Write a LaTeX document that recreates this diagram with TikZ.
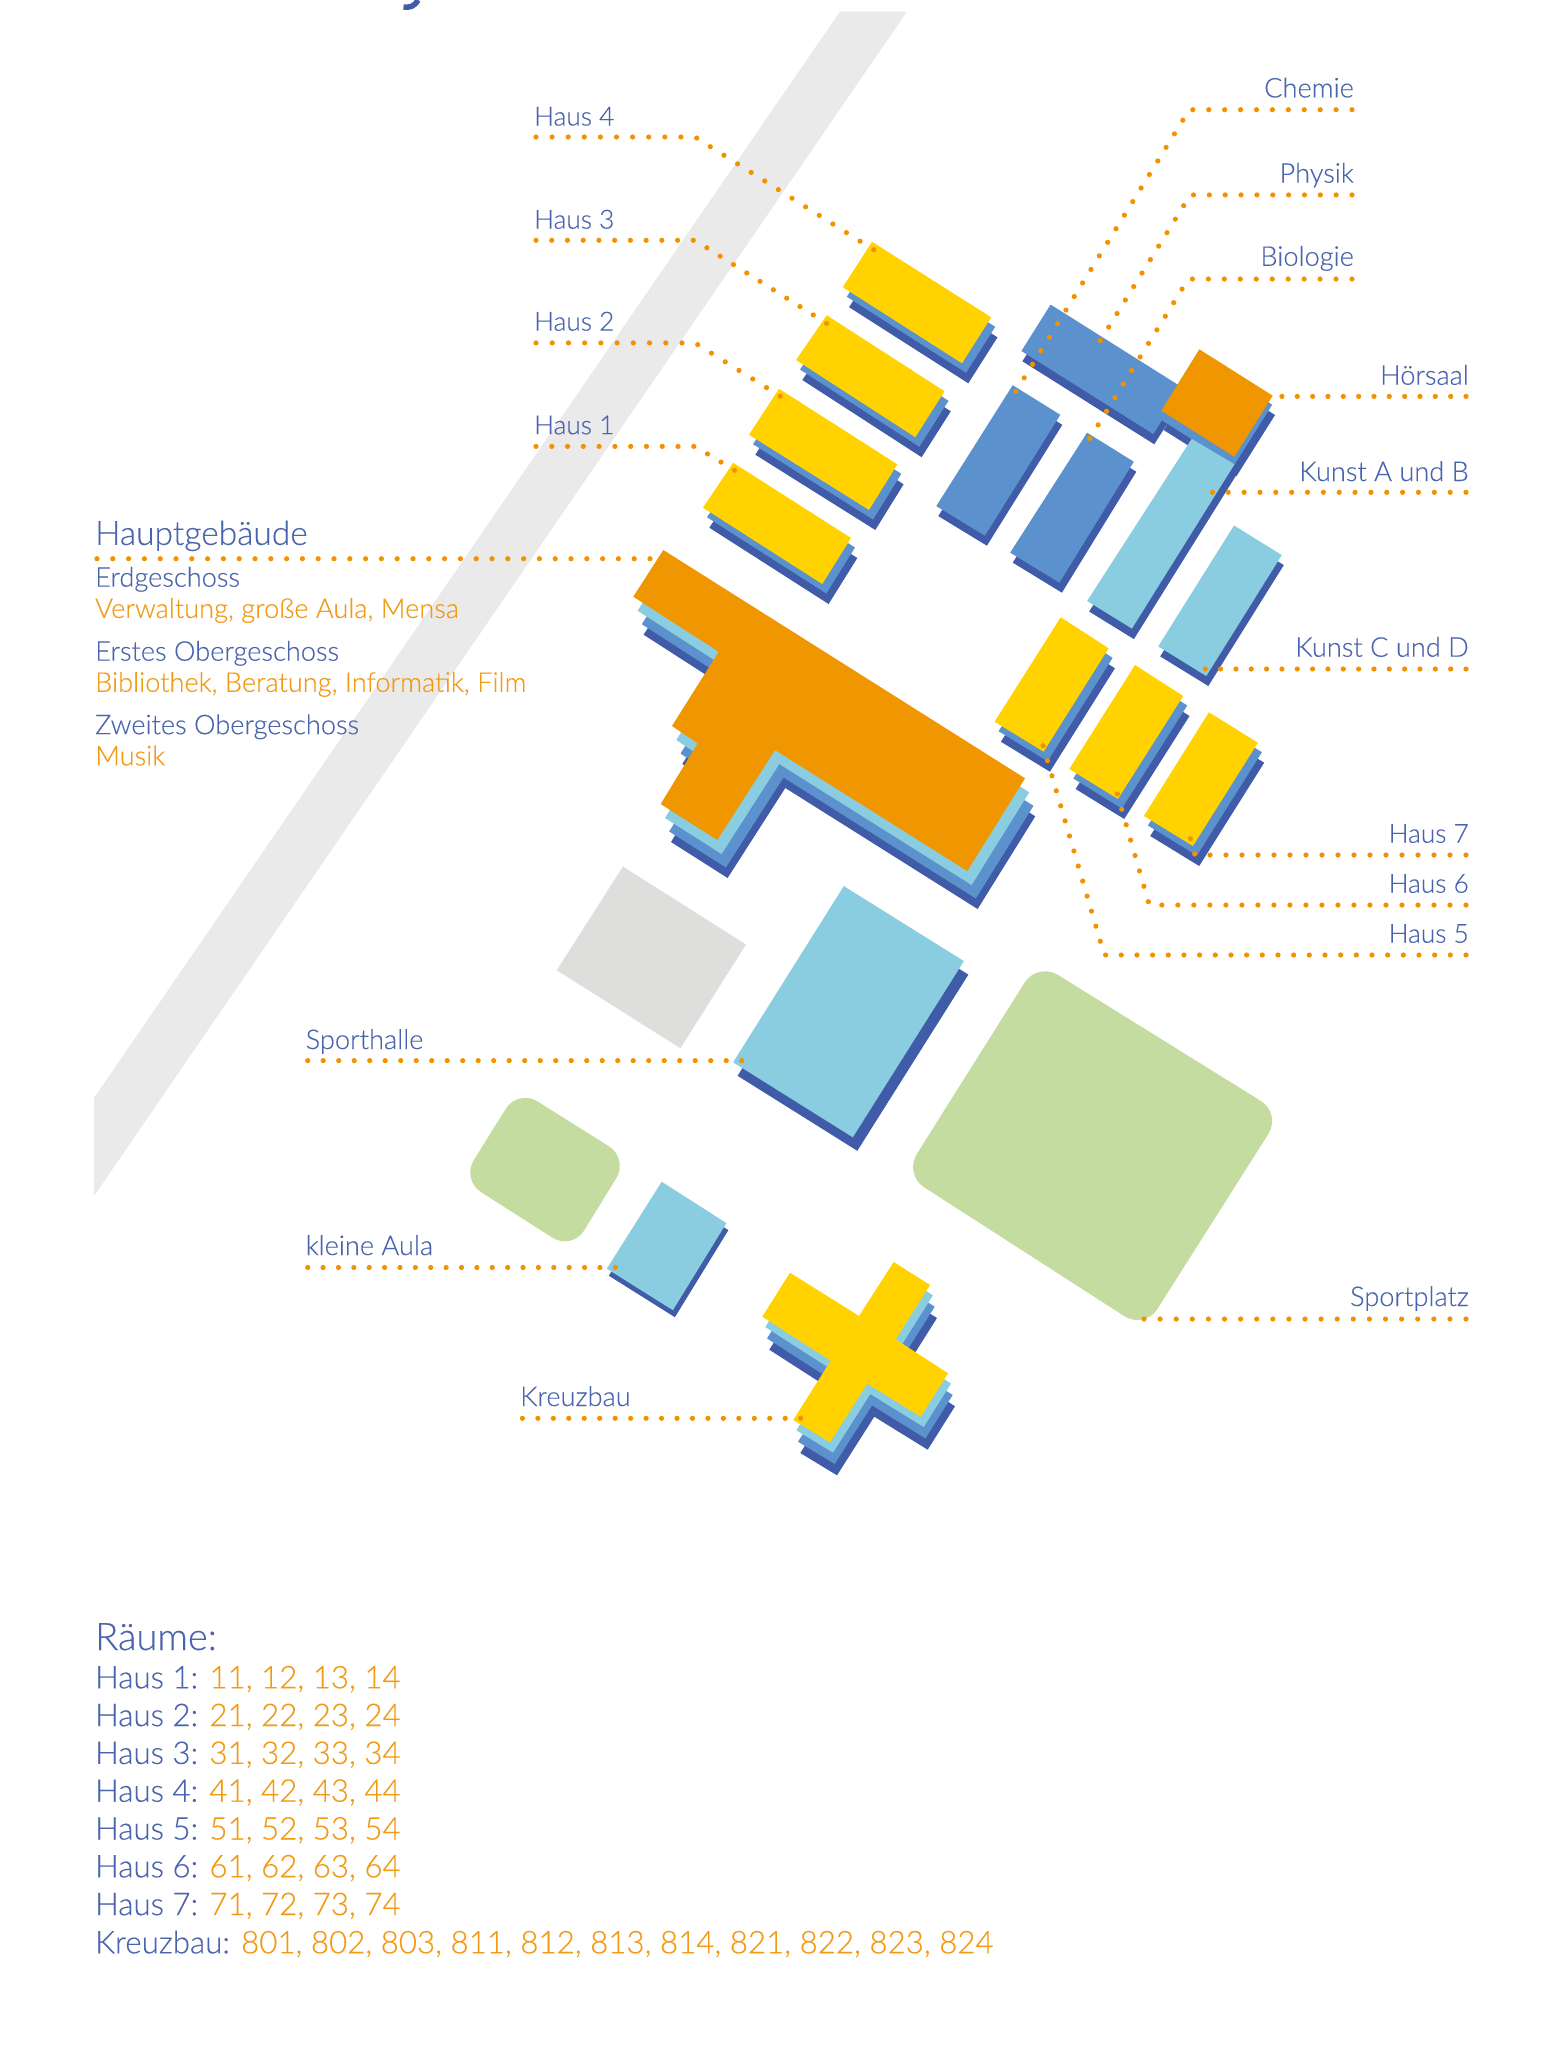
\documentclass[tikz,border=0pt]{standalone}
\usepackage{fontspec}
\setmainfont{Lato}[UprightFont=* Light, UprightFeatures={FakeBold=0.25}]
\usetikzlibrary{positioning}

\definecolor{tblue}{HTML}{4A64AE}
\definecolor{torange}{HTML}{F39A14}
\definecolor{dotorange}{HTML}{F39200}
\definecolor{bdark}{HTML}{405CA8}
\definecolor{bmed}{HTML}{5B91CD}
\definecolor{blight}{HTML}{8BCDE0}
\definecolor{byellow}{HTML}{FFD200}
\definecolor{borange}{HTML}{EF9600}
\definecolor{road}{HTML}{EAEAEA}
\definecolor{plot}{HTML}{DEDEDC}
\definecolor{lawn}{HTML}{C4DCA0}

% one building: list of colour/dx/dy layers, then the outline
\newcommand{\layered}[2]{\edef\stacklist{#1}\foreach \col/\dx/\dy in \stacklist {\fill[\col,shift={(\dx,\dy)}] #2;}}
% leader line: dot spacing, start, knee, end
\newcommand{\leader}[5]{
  \coordinate (#1s) at #3;
  \coordinate (#1k) at #4;
  \coordinate (#1e) at #5;
  \draw[dots=#2] (#1s) -- (#1k) -- (#1e);
}
\newcommand{\hausstack}{bdark/6.3/20,bmed/4/9.5,byellow/0/0}
\newcommand{\mainstack}{bdark/10.3/38,bmed/8.5/27.5,blight/4.3/14}

\begin{document}
\begin{tikzpicture}[
    x=1pt, y=-1pt,
    dots/.style={draw=dotorange, line width=5.2pt, line cap=round, dash pattern=on 0pt off #1pt},
    lab/.style={text=tblue, inner sep=0pt, anchor=base west, font=\fontsize{27.2}{32}\selectfont},
    labr/.style={lab, anchor=base east},
    hauslab/.style={lab, font=\fontsize{26.3}{32}\selectfont},
    hauslabr/.style={hauslab, anchor=base east},
    sub/.style={lab, text=torange},
    big/.style={lab, font=\fontsize{33.5}{38}\selectfont},
    room/.style={lab, font=\fontsize{31.3}{36}\selectfont},
  ]
  \useasboundingbox (0,0) rectangle (1563,2048);
  \fill[white] (0,0) rectangle (1563,2048);

  % Road and title remnant
  \fill[road] (840,11.5) -- (907,11.5) -- (94,1196) -- (94,1098) -- cycle;
  \draw[bdark, line width=5.5pt] (418,0) .. controls (414,7) and (410,7.5) .. (403.5,7);

  % Open ground
  \fill[plot] (622.9,866.6) -- (746,944.5) -- (680.4,1048.2) -- (556.8,970.2) -- cycle;
  \fill[lawn, rounded corners=23pt] (518,1089.2) -- (628.4,1158.5) -- (572,1250.1) -- (461.6,1179.7) -- cycle;
  \fill[lawn, rounded corners=24pt] (1037.5,962.2) -- (1281.2,1113.6) -- (1144.6,1329.2) -- (904,1174.3) -- cycle;

  % Haus 1 to 4
  \layered{\hausstack}{(872,241.8) -- (991.2,317.3) -- (962,363.3) -- (842.8,287.2) -- cycle}
  \layered{\hausstack}{(826.8,315.3) -- (944.5,391.3) -- (915.3,437.2) -- (796,360) -- cycle}
  \layered{\hausstack}{(779,388.8) -- (897.3,464.3) -- (869,510) -- (749,434.7) -- cycle}
  \layered{\hausstack}{(733.2,462.8) -- (851,538) -- (822.3,584) -- (703,507.7) -- cycle}

  % Haus 5 to 7
  \layered{\hausstack}{(1060.7,617.3) -- (1108.6,648.3) -- (1043.6,751.7) -- (994.6,721.7) -- cycle}
  \layered{\hausstack}{(1135,665) -- (1183.2,696) -- (1117.9,799) -- (1069.3,769) -- cycle}
  \layered{\hausstack}{(1208.9,712.3) -- (1257.9,742.7) -- (1192.9,846) -- (1143.9,816) -- cycle}

  % Naturwissenschaften
  \layered{bdark/1/10.3,bmed/0/0}{(1050.6,304.6) -- (1182.5,387.6) -- (1153.3,434) -- (1021.4,351) -- cycle}
  \layered{bdark/2/10,bmed/0/0}{(1012.7,385.2) -- (1060.3,414.8) -- (984.9,535.7) -- (936.3,506.1) -- cycle}
  \layered{bdark/2.5/10,bmed/0/0}{(1087.1,432.7) -- (1133.8,461.7) -- (1059.4,582.7) -- (1010.2,552.6) -- cycle}

  % Kunst and Hoersaal
  \layered{bdark/2/10.5}{(1191.7,438.8) -- (1234.5,464.3) -- (1131.9,628.6) -- (1087.1,601) -- cycle}
  \layered{bdark/2.3/19.3,bmed/-0.5/9}{(1199.3,349.3) -- (1272.7,395.7) -- (1234.3,456.7) -- (1161.3,410.7) -- cycle}
  \layered{blight/0/0}{(1191.7,438.8) -- (1234.5,464.3) -- (1131.9,628.6) -- (1087.1,601) -- cycle}
  \layered{borange/0/0}{(1199.3,349.3) -- (1272.7,395.7) -- (1234.3,456.7) -- (1161.3,410.7) -- cycle}
  \layered{bdark/2/10,blight/0/0}{(1234,525.5) -- (1281.8,555.1) -- (1206.3,676) -- (1158.2,646.4) -- cycle}

  % Hauptgebaeude
  \layered{\mainstack,borange/0/0}{(663.3,550) -- (1025,778.3) -- (967.3,871) -- (775,750) -- (717.3,840) -- (660.7,804) -- (697.7,743.3) -- (672,726) -- (718.7,651.7) -- (633.3,596.7) -- cycle}

  % Sporthalle, kleine Aula, Kreuzbau
  \layered{bdark/4.5/13.5,blight/0/0}{(843.8,886.1) -- (963.9,961.1) -- (852.8,1137.3) -- (733.1,1062.3) -- cycle}
  \layered{bdark/2/7,blight/0/0}{(661.7,1181.7) -- (726.4,1223.1) -- (672.9,1310.2) -- (606.8,1268.7) -- cycle}
  \layered{bdark/7/33,bmed/4.7/21.7,blight/3/10.3,byellow/0/0}{(893.7,1262) -- (930,1285) -- (895.7,1339.3) -- (948,1373.3) -- (920.7,1416.7) -- (867.3,1383.7) -- (830,1442.3) -- (793.3,1420) -- (830.7,1360.7) -- (762.3,1316.7) -- (790,1272.7) -- (859,1316) -- cycle}

  % Labels left
  \node[hauslab] (haus4) at (534,125.5) {Haus 4};
  \node[hauslab] (haus3) at (534,228.6) {Haus 3};
  \node[hauslab] (haus2) at (534,330.6) {Haus 2};
  \node[hauslab] (haus1) at (534,434.2) {Haus 1};
  \node[lab] (halle) at (305.5,1049) {Sporthalle};
  \node[lab] (aula) at (305.5,1255) {kleine Aula};
  \node[lab] (kreuz) at (520,1406) {Kreuzbau};

  % Labels right
  \node[labr] (chemie) at (1354,97.4) {Chemie};
  \node[labr] (physik) at (1354,182.7) {Physik};
  \node[labr] (bio) at (1354,265.8) {Biologie};
  \node[labr] (saal) at (1469,384.7) {Hörsaal};
  \node[labr] (kunstab) at (1469,481) {Kunst A und B};
  \node[labr] (kunstcd) at (1469,656.7) {Kunst C und D};
  \node[hauslabr] (haus7) at (1469,842.7) {Haus 7};
  \node[hauslabr] (haus6) at (1469,892.7) {Haus 6};
  \node[hauslabr] (haus5) at (1469,942.7) {Haus 5};
  \node[labr] (platz) at (1469,1306) {Sportplatz};

  % Hauptgebaeude text
  \node[big] (haupt) at (95,544.9) {Hauptgebäude};
  \node[lab] (eg) at (95,586.7) {Erdgeschoss};
  \node[sub] (egt) at (95,617.9) {Verwaltung, große Aula, Mensa};
  \node[lab] (og) at (95,660.7) {Erstes Obergeschoss};
  \node[sub] (ogt) at (95,691.8) {Bibliothek, Beratung, Informatik, Film};
  \node[lab] (zg) at (95,734.2) {Zweites Obergeschoss};
  \node[sub] (zgt) at (95,765.3) {Musik};

  % Leaders
  \leader{l4}{16.1}{(536,137)}{(695,137)}{(874,250)}
  \leader{l3}{15.73}{(536,240.3)}{(695,240.3)}{(826.8,323.5)}
  \leader{l2}{16.22}{(536,342.9)}{(695,342.9)}{(780.6,396.4)}
  \leader{l1}{15.78}{(536,446.4)}{(695,446.4)}{(734.7,470.4)}
  \leader{lc}{15.92}{(1352,109.7)}{(1189.3,109.7)}{(1015.6,391.8)}
  \leader{lp}{15.85}{(1352,194.9)}{(1190.3,194.9)}{(1100.2,340.8)}
  \leader{lb}{15.96}{(1352,279)}{(1188.3,279)}{(1089.5,438.8)}
  \leader{l7}{16}{(1466,855)}{(1195,855)}{(1190.4,838.3)}
  \leader{l6}{16.01}{(1466,905)}{(1149.3,905)}{(1117.1,793.3)}
  \leader{l5}{15.67}{(1466,955)}{(1104.3,955)}{(1042.9,745)}
  \coordinate (lhs) at (97,558.7);
  \coordinate (lhe) at (650.5,558.7);
  \draw[dots=15.8] (lhs) -- (lhe);
  \coordinate (lss) at (1466,396.4);
  \coordinate (lse) at (1281.7,396.4);
  \draw[dots=15.34] (lss) -- (lse);
  \coordinate (las) at (1466,492.3);
  \coordinate (lae) at (1212.2,492.3);
  \draw[dots=15.85] (las) -- (lae);
  \coordinate (lds) at (1466,669);
  \coordinate (lde) at (1205,669);
  \draw[dots=15.34] (lds) -- (lde);
  \coordinate (lfs) at (1466,1319);
  \coordinate (lfe) at (1143.6,1319);
  \draw[dots=16.1] (lfs) -- (lfe);
  \coordinate (lgs) at (307.7,1060.6);
  \coordinate (lge) at (742,1060.6);
  \draw[dots=15.5] (lgs) -- (lge);
  \coordinate (lks) at (307.7,1267.5);
  \coordinate (lke) at (615.7,1267.5);
  \draw[dots=15.38] (lks) -- (lke);
  \coordinate (lxs) at (522.4,1418.3);
  \coordinate (lxe) at (801,1418.3);
  \draw[dots=15.46] (lxs) -- (lxe);

  % Rooms
  \node[lab, font=\fontsize{38}{44}\selectfont] (raeume) at (95,1650) {Räume:};
  \foreach \n in {1,...,7}
    \node[room] (raum\n) at (95,{1688.3+(\n-1)*37.8}) {Haus \n: \textcolor{torange}{\n1, \n2, \n3, \n4}};
  \node[room] (raumk) at (95,1953.3) {Kreuzbau: \textcolor{torange}{801, 802, 803, 811, 812, 813, 814, 821, 822, 823, 824}};
\end{tikzpicture}
\end{document}
